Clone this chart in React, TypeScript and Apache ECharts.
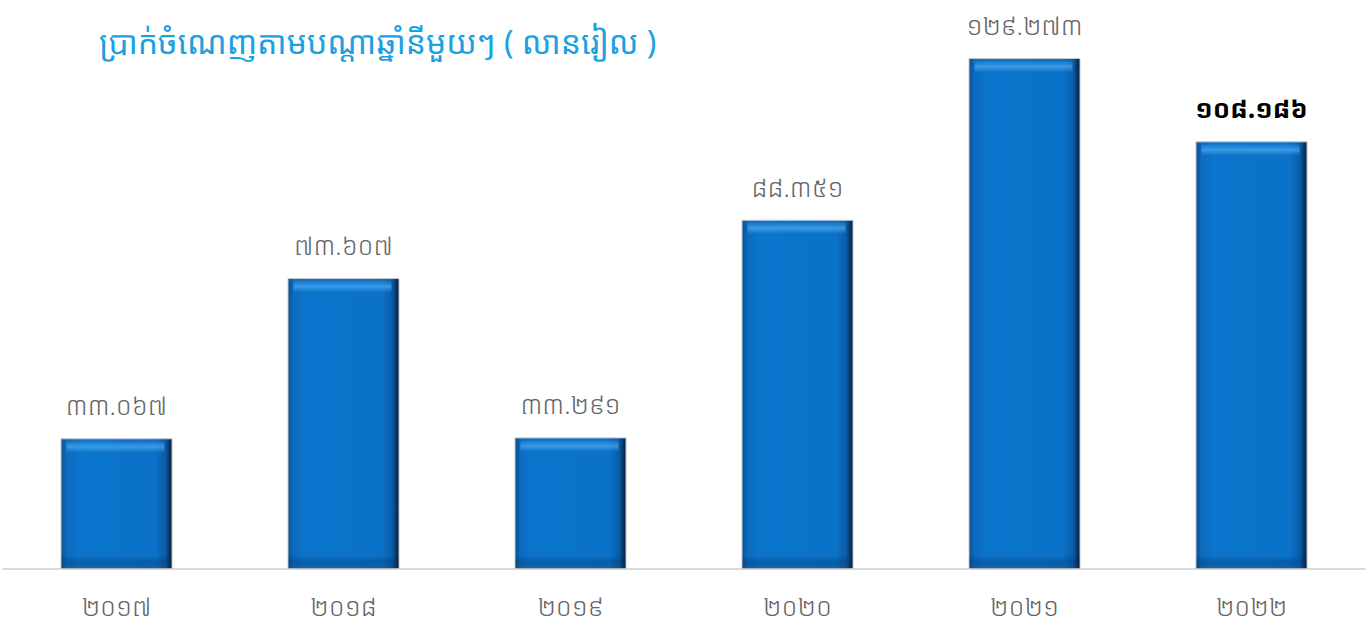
import React, { useEffect, useRef } from "react";
import * as echarts from "echarts";

const categories = ["២០១៧", "២០១៨", "២០១៩", "២០២០", "២០២១", "២០២២"];
const values = [33.067, 73.607, 33.291, 88.351, 129.273, 108.186];
const valueLabels = ["៣៣.០៦៧", "៧៣.៦០៧", "៣៣.២៩១", "៨៨.៣៥១", "១២៩.២៧៣", "១០៨.១៨៦"];
const titleText = "ប្រាក់ចំណេញតាមបណ្តាឆ្នាំនីមួយៗ ( លានរៀល )";

const FONT = "'Noto Sans Khmer', 'Khmer OS', 'Khmer OS System', 'Noto Sans', sans-serif";

export default function App() {
  const ref = useRef<HTMLDivElement>(null);
  useEffect(() => {
    if (!ref.current) return;
    const chart = echarts.init(ref.current, null, { renderer: "svg" });
    const last = values.length - 1;
    chart.setOption({
      animation: false,
      backgroundColor: "#ffffff",
      title: {
        text: titleText,
        left: 94,
        top: 20,
        textStyle: { color: "#1ba1e2", fontSize: 32, fontWeight: "normal", fontFamily: FONT },
      },
      grid: { left: 3, right: 5, top: 15.6, bottom: 56, containLabel: false },
      xAxis: {
        type: "category",
        data: categories,
        axisLine: { show: true, lineStyle: { color: "#d9d9d9", width: 2 } },
        axisTick: { show: false },
        axisLabel: { color: "#666666", fontSize: 26, fontWeight: 300, fontFamily: FONT, margin: 24 },
      },
      yAxis: {
        type: "value",
        min: 0,
        max: 140,
        show: false,
        splitLine: { show: false },
      },
      series: [
        {
          type: "bar",
          data: values.map((v, i) => ({
            value: v,
            label: {
              show: true,
              position: "top",
              distance: 20,
              formatter: valueLabels[i],
              color: i === last ? "#000000" : "#666666",
              fontWeight: i === last ? "bold" : 300,
              fontSize: 26,
              fontFamily: FONT,
            },
          })),
          barWidth: 112,
          itemStyle: {
            color: new echarts.graphic.LinearGradient(0, 0, 1, 0, [
              { offset: 0, color: "#0a5096" },
              { offset: 0.05, color: "#0c6bbd" },
              { offset: 0.15, color: "#0b74cc" },
              { offset: 0.85, color: "#0a72c8" },
              { offset: 0.94, color: "#0a5ca6" },
              { offset: 1, color: "#041d38" },
            ]),
            borderColor: "#c8c8c8",
            borderWidth: 1,
          },
        },
        {
          type: "custom",
          data: values.map((v, i) => [i, v]),
          silent: true,
          z: 5,
          renderItem: (params: any, api: any) => {
            const idx = api.value(0);
            const v = api.value(1);
            const top = api.coord([idx, v]);
            const base = api.coord([idx, 0]);
            const w = 112;
            const x = top[0] - w / 2;
            return {
              type: "group",
              children: [
                {
                  type: "rect",
                  shape: { x: x + 6, y: top[1] + 3, width: w - 14, height: 11 },
                  style: {
                    fill: new echarts.graphic.LinearGradient(0, 0, 0, 1, [
                      { offset: 0, color: "rgba(80,170,240,0.1)" },
                      { offset: 0.5, color: "rgba(80,170,240,0.7)" },
                      { offset: 1, color: "rgba(80,170,240,0.05)" },
                    ]),
                  },
                },
                {
                  type: "rect",
                  shape: { x: x + 1, y: base[1] - 14, width: w - 2, height: 14 },
                  style: {
                    fill: new echarts.graphic.LinearGradient(0, 0, 0, 1, [
                      { offset: 0, color: "rgba(5,40,80,0)" },
                      { offset: 0.5, color: "rgba(5,40,80,0.3)" },
                      { offset: 1, color: "rgba(5,40,80,0.12)" },
                    ]),
                  },
                },
              ],
            };
          },
        },
      ],
    });
    return () => chart.dispose();
  }, []);
  return (
    <div
      ref={ref}
      style={{ position: "fixed", left: 0, top: 0, width: 1370, height: 625 }}
    />
  );
}
